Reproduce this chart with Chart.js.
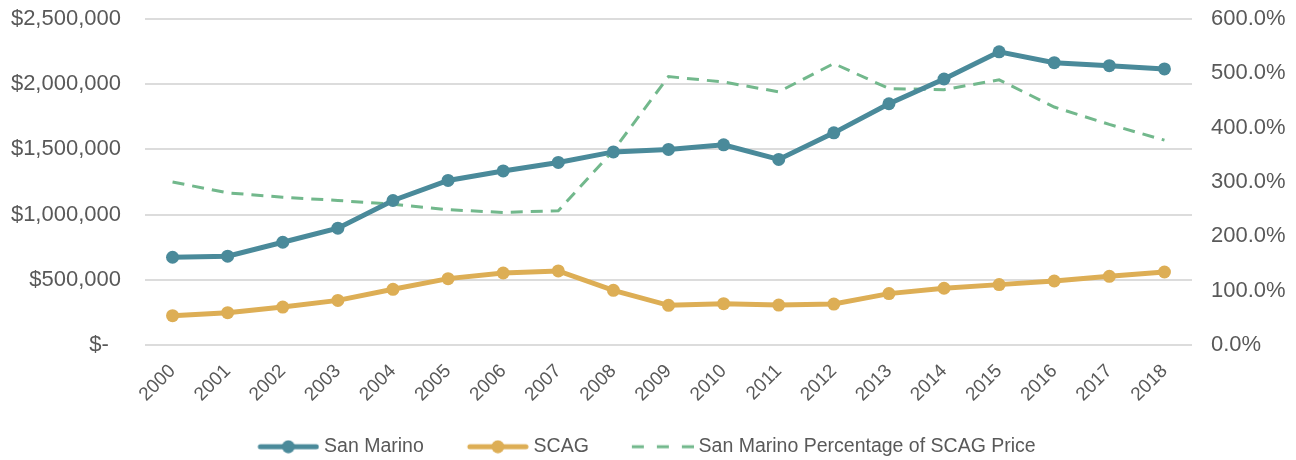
<!DOCTYPE html>
<html>
<head>
<meta charset="utf-8">
<script src="https://cdn.jsdelivr.net/npm/chart.js@4.4.1/dist/chart.umd.min.js"></script>
<style>
  body { margin: 0; background: #fff; }
  #wrap { width: 1296px; height: 460px; position: relative; }
</style>
</head>
<body>
<div id="wrap"><canvas id="chart"></canvas></div>
<script>
// categories
const years = ['2000', '2001', '2002', '2003', '2004', '2005', '2006', '2007', '2008', '2009',
  '2010', '2011', '2012', '2013', '2014', '2015', '2016', '2017', '2018'];

// median price, San Marino ($)
const sanMarino = [673000, 681000, 788000, 896000, 1108000, 1262000, 1335000, 1400000, 1481000, 1500000,
  1535000, 1423000, 1627000, 1850000, 2040000, 2248000, 2165000, 2142000, 2117000];

// median price, SCAG region ($)
const scag = [225000, 248000, 291000, 342000, 427000, 509000, 552000, 568000, 419000, 304000,
  317000, 306000, 314000, 394000, 435000, 463000, 491000, 527000, 560000];

// San Marino as a percentage of SCAG price (%)
const pctOfScag = [300, 280, 272, 266, 259, 249, 244, 247, 358, 494,
  484, 466, 518, 472, 470, 488, 438, 406, 377];

// axis ranges
const moneyMax = 2500000, moneyStep = 500000;
const pctMax = 600, pctStep = 100;

const teal = '#4a8a9a';
const gold = '#ddae55';
const green = '#72b88c';
const textGrey = '#595959';
const font = "'Liberation Sans', Arial, sans-serif";

// legend pictures: blank lead-in on the left, then the line sample (62px)
function legendIcon(color, dashed) {
  const c = document.createElement('canvas');
  c.width = 90; c.height = 14;
  const g = c.getContext('2d');
  const x0 = 28, x1 = 90;
  g.strokeStyle = color;
  if (dashed) {
    g.lineWidth = 3;
    g.setLineDash([12, 13]);
    g.beginPath(); g.moveTo(x0, 7); g.lineTo(x1, 7); g.stroke();
  } else {
    g.lineWidth = 5;
    g.lineCap = 'round';
    g.beginPath(); g.moveTo(x0 + 3, 7); g.lineTo(x1 - 3, 7); g.stroke();
    g.fillStyle = color;
    g.beginPath(); g.arc((x0 + x1) / 2, 7, 6.5, 0, Math.PI * 2); g.fill();
  }
  return c;
}
const icons = [legendIcon(teal, false), legendIcon(gold, false), legendIcon(green, true)];

// the icons carry a blank lead-in, so pull the legend back to centre
const nudgeLegend = {
  id: 'nudgeLegend',
  afterLayout(chart) {
    chart.legend.left -= 13;
    chart.legend.right -= 13;
  }
};

const ctx = document.getElementById('chart').getContext('2d');
new Chart(ctx, {
  type: 'line',
  data: {
    labels: years,
    datasets: [{
      label: 'San Marino',
      data: sanMarino,
      yAxisID: 'y',
      borderColor: teal,
      backgroundColor: teal,
      borderWidth: 5,
      pointRadius: 6.5,
      pointBorderWidth: 0,
      tension: 0
    }, {
      label: 'SCAG',
      data: scag,
      yAxisID: 'y',
      borderColor: gold,
      backgroundColor: gold,
      borderWidth: 5,
      pointRadius: 6.5,
      pointBorderWidth: 0,
      tension: 0
    }, {
      label: 'San Marino Percentage of SCAG Price',
      data: pctOfScag,
      yAxisID: 'y1',
      borderColor: green,
      backgroundColor: green,
      borderWidth: 3,
      borderDash: [12, 8],
      pointRadius: 0,
      tension: 0
    }]
  },
  plugins: [nudgeLegend],
  options: {
    responsive: true,
    maintainAspectRatio: false,
    animation: false,
    events: [],
    layout: { padding: { top: 19, bottom: -6.5, left: 0, right: 0 } },
    plugins: {
      tooltip: { enabled: false },
      legend: {
        position: 'bottom',
        labels: {
          color: textGrey,
          font: { family: font, size: 19.5 },
          usePointStyle: true,
          pointStyleWidth: 80,
          padding: 20,
          generateLabels: (chart) => {
            const items = Chart.defaults.plugins.legend.labels.generateLabels(chart);
            items.forEach((it) => { it.pointStyle = icons[it.datasetIndex]; });
            return items;
          }
        }
      }
    },
    scales: {
      x: {
        offset: true,
        grid: { display: false, drawTicks: false },
        border: { display: false },
        ticks: {
          color: textGrey,
          font: { family: font, size: 19 },
          minRotation: 45,
          maxRotation: 45,
          padding: 15
        },
        afterFit: (s) => { s.height = 72; }
      },
      y: {
        position: 'left',
        min: 0,
        max: moneyMax,
        grid: { color: '#dcdcdc', lineWidth: 2, drawTicks: true, tickLength: 24, tickColor: 'transparent' },
        border: { display: false },
        ticks: {
          stepSize: moneyStep,
          color: textGrey,
          font: { family: font, size: 22 },
          padding: 0,
          callback: (v) => v === 0 ? '$-  ' : '$' + v.toLocaleString('en-US')
        },
        afterFit: (s) => { s.width = 145; }
      },
      y1: {
        position: 'right',
        min: 0,
        max: pctMax,
        grid: { drawOnChartArea: false, drawTicks: true, tickLength: 19, tickColor: 'transparent' },
        border: { display: false },
        ticks: {
          stepSize: pctStep,
          color: textGrey,
          font: { family: font, size: 22 },
          padding: 0,
          callback: (v) => v.toFixed(1) + '%'
        },
        afterFit: (s) => { s.width = 104; }
      }
    }
  }
});
</script>
</body>
</html>
